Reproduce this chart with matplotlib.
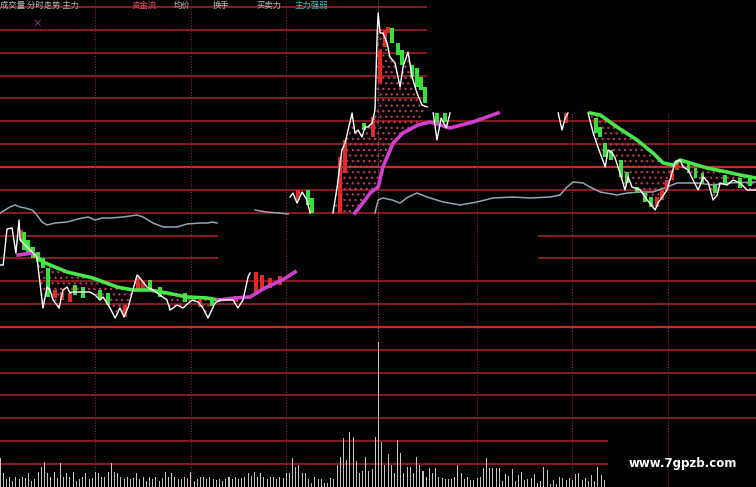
import numpy as np
import matplotlib
matplotlib.use("Agg")
import matplotlib.pyplot as plt

plt.rcParams['font.family'] = ['Noto Sans CJK SC', 'DejaVu Sans']
plt.rcParams['hatch.linewidth'] = 0.9

# x = trading minute, y = level (chart units, 0 = bottom of panel)
# price line, cut into the visible pieces of the screenshot
price_a_x = [0, 1, 2.2, 3.8, 5, 6, 6.3, 10.4, 11.6, 13.5, 14.8, 15.7, 16.7, 18.6, 19.8, 21.1, 22, 22.6,
             28.3, 29.9, 31.4, 32.4, 34.6, 36.2, 37.7, 39, 40.3, 43.1, 44, 46.2, 48.1, 52.5, 53.5, 55.7,
             57.5, 60.4, 62.3, 63.8, 65.4, 67.6, 69.2, 73.3, 74.8, 76.4, 78, 78.6]
price_a_y = [222, 222, 258, 259, 234, 267, 247, 234, 230, 179, 200, 197, 187, 179, 197, 200, 194, 195,
             195, 192, 187, 190, 179, 169, 179, 170, 180, 212, 209, 200, 197, 187, 177, 182,
             179, 187, 185, 179, 169, 184, 187, 187, 179, 187, 210, 214]
price_b_x = [91.2, 92.1, 93.4, 95, 96.5, 97.5]
price_b_y = [290, 294, 284, 295, 287, 274]
price_c_x = [104.7, 106, 107.5, 108.5, 110.7, 111.6, 112.6, 113.8, 114.8, 115.7, 117, 117.9, 118.6, 118.9,
             119.5, 120.4, 121.7, 122.6, 124.2, 125.8, 126.7, 128.3, 129.6, 131.1, 132.7, 134.3]
price_c_y = [274, 300, 337, 344, 374, 354, 357, 350, 360, 360, 364, 377, 454, 474,
             454, 454, 444, 430, 424, 400, 420, 435, 410, 394, 382, 380]
price_d_x = [136.2, 137.4, 138.7, 140.3, 141.5]
price_d_y = [374, 347, 369, 359, 374]
price_e_x = [175.5, 176.7, 177.7, 178.6]
price_e_y = [374, 357, 369, 374]
price_f_x = [184.9, 186.5, 188, 190.3, 191.2, 192.5, 193.4, 195.6, 196.5, 197.5, 198.7, 201.3, 203.5, 206,
             206.9, 209.7, 212.3, 213.8, 214.8, 216.4, 217.9, 219.5, 221.1, 222.6, 224.2, 225.5, 226.4,
             228.6, 230.5, 232.7, 234.9, 237.7]
price_f_y = [374, 354, 340, 320, 337, 334, 329, 307, 297, 310, 300, 297, 287, 277,
             284, 297, 325, 327, 320, 317, 307, 297, 310, 305, 287, 292, 304,
             302, 307, 304, 297, 297]

# upper band (green)
upper_l_x = [7.2, 10.4, 13.5, 21.1, 29.2, 36.8, 41.8, 47.2, 52.5, 58.8, 65.1, 68.6]
upper_l_y = [247, 234, 225, 215, 209, 200, 197, 197, 194, 190, 189, 187]
upper_r_x = [185.5, 188.7, 194, 200.3, 205.3, 208.5, 211.6, 213.8, 217, 222.3, 228.6, 232.7, 237.7]
upper_r_y = [374, 372, 360, 347, 334, 324, 322, 327, 324, 319, 315, 312, 309]

# lower band (magenta)
lower_1_x = [5.7, 10.4]
lower_1_y = [232, 234]
lower_2_x = [68.6, 73.9, 78.6, 83.3, 88.7, 92.8]
lower_2_y = [187, 189, 190, 199, 207, 215]
lower_3_x = [111.6, 114.8, 116.4, 118.9, 120.4, 123.6, 126.7, 131.4, 135.2, 141.5, 148.7, 156.6]
lower_3_y = [274, 287, 294, 300, 320, 344, 354, 362, 365, 359, 365, 374]

# average line (grey blue)
avg_l_x = [0, 1.6, 3.1, 4.7, 6.3, 7.9, 10.1, 11.6, 13.2, 14.8, 17.3, 21.1, 24.5, 27.7, 29.9, 32.1, 34.6,
           38.7, 43.1, 45, 48.1, 51.3, 55.7, 58.8, 62.9, 65.4, 66.7, 68.2]
avg_l_y = [274, 277, 280, 282, 280, 279, 277, 272, 265, 262, 264, 265, 268, 270, 267, 269, 269,
           270, 272, 270, 264, 260, 260, 263, 264, 264, 265, 264]
avg_m_x = [80.2, 81.8, 84, 90.6]
avg_m_y = [277, 276, 275, 273]
avg_r_x = [117.9, 118.9, 120.4, 123.3, 125.8, 128.3, 131.1, 134.3, 139.3, 144.7, 150, 155, 161.3, 166.7,
           173, 176.1, 178.3, 180.2, 183.3, 185.5, 188.7, 194, 197.2, 201.3, 205.3, 209.7, 212.9,
           219.2, 224.2, 228.6, 237.7]
avg_r_y = [274, 287, 289, 287, 284, 290, 294, 290, 285, 282, 285, 289, 290, 289,
           290, 292, 300, 305, 304, 300, 295, 292, 294, 295, 295, 300, 304,
           304, 302, 304, 305]

# candle bodies (minute, low, high)
red_x = [6.6, 17.3, 19.5, 22, 39.3, 43.4, 45, 62.9, 74.2, 80.5, 82.4, 84.9, 88, 93.7, 106.9, 108.5,
         117.3, 119.5, 121.1, 122, 178, 206.6, 208.2, 209.7, 211.3, 212.9]
red_lo = [247, 189, 187, 185, 170, 195, 197, 180, 185, 192, 197, 199, 202, 287, 274, 314,
          350, 404, 440, 454, 364, 280, 287, 297, 307, 317]
red_hi = [257, 197, 195, 194, 182, 209, 205, 187, 191, 215, 212, 209, 211, 297, 330, 347,
          370, 437, 457, 460, 374, 290, 297, 307, 317, 327]
green_x = [7.5, 8.8, 10.4, 11.9, 13.5, 15.1, 23.6, 26.1, 31.4, 34, 47.2, 50.3, 58.2, 66.7, 96.9, 98.1,
           114.5, 123.3, 125.2, 126.4, 129.6, 131.1, 132.4, 133.6, 137.4, 139.9, 187.4, 188.7, 190.3,
           192.1, 195.3, 197.2, 200.3, 202.8, 204.7, 216.4, 218.6, 220.8, 224.8, 228, 232.7, 235.8]
green_lo = [237, 234, 229, 225, 219, 190, 192, 189, 187, 182, 197, 190, 185, 181, 282, 274,
            357, 444, 432, 422, 410, 400, 397, 384, 362, 365, 354, 350, 330,
            327, 310, 304, 294, 285, 280, 314, 309, 304, 294, 302, 299, 301]
green_hi = [255, 247, 240, 235, 229, 219, 202, 200, 197, 194, 207, 200, 194, 189, 297, 289,
            364, 459, 444, 437, 422, 419, 410, 400, 374, 374, 369, 360, 344,
            337, 327, 315, 300, 294, 290, 325, 319, 314, 302, 312, 309, 309]

# volume per minute
volume = [29, 14, 8, 10, 6, 10, 8, 10, 9, 14, 6, 8, 15, 20, 25, 14, 10, 15, 9, 24,
          10, 14, 10, 15, 6, 8, 10, 14, 8, 9, 15, 14, 10, 10, 15, 24, 15, 14, 10, 8,
          10, 8, 9, 14, 8, 10, 6, 10, 8, 10, 6, 9, 15, 10, 14, 10, 8, 8, 10, 9,
          15, 6, 8, 10, 10, 8, 10, 8, 7, 8, 6, 8, 10, 8, 10, 8, 9, 10, 14, 11,
          15, 10, 14, 10, 8, 10, 10, 8, 10, 9, 14, 14, 29, 20, 22,
          14, 14, 8, 4, 10, 8, 8, 4, 4, 9, 8, 22, 30, 49, 27, 55, 50, 26, 14, 16, 30, 16, 18, 50,
          145,
          45, 22, 33, 22, 14, 47, 34, 14, 20, 20, 14, 30, 22, 16, 10, 19, 14, 19, 10, 9,
          8, 8, 8, 10, 22, 14, 8, 10, 7, 7, 9,
          10, 19, 29, 19, 19, 19, 19, 6, 13, 11, 18, 6, 12, 15, 7, 8, 9, 13, 4, 6,
          20, 17, 3, 7, 3, 10, 9, 7, 9, 7, 13, 14, 7, 9, 6, 12, 6, 20, 12, 7]

time_marks = [30, 60, 90, 119, 150, 180, 210]

header = [("成交量 分时走势 主力", '#b8b8b8', 0),
          ("资金流", '#e05060', 132),
          ("均价", '#b8b8b8', 174),
          ("换手", '#b8b8b8', 213),
          ("买卖力", '#b8b8b8', 257),
          ("主力强弱", '#40c0c0', 294)]

fig = plt.figure(figsize=(7.56, 4.87), dpi=100, facecolor='black')
ax = fig.add_axes([0, 0, 1, 1], facecolor='black')
x_end = 237.7
ax.set_xlim(0, x_end)
ax.set_ylim(0, 487)
ax.axis('off')

# horizontal grid, some pieces of the screen are blanked out
levels = 480 - 22.85 * np.arange(21)
for k, lv in enumerate(levels):
    col = '#cc2828' if k in (7, 14) else '#9a1e1e'
    lw = 1.6 if k in (7, 14) else 1.25
    if k <= 4:
        spans = [(0, 134.3)]
    elif k in (10, 11):
        spans = [(0, 68.6), (169.2, x_end)]
    elif k >= 19:
        spans = [(0, 191.2)]
    else:
        spans = [(0, x_end)]
    for a, b in spans:
        ax.hlines(lv, a, b, colors=col, linewidth=lw, zorder=1)

for m in time_marks:
    top = 374 if m >= 150 else 487
    col = '#b84848' if m == 119 else '#8a2a2a'
    ax.vlines(m, 0, top, colors=col, linestyles=(0, (1, 1.5)), linewidth=0.8, zorder=1)

# volume
ax.bar(np.arange(len(volume)), volume, width=0.32, color='#c4c4c4', zorder=2)


def band(top_x, top_y, bot_x, bot_y):
    tx, ty = np.asarray(top_x), np.asarray(top_y)
    bx, by = np.asarray(bot_x), np.asarray(bot_y)
    keep = (bx >= tx.min()) & (bx <= tx.max())
    return np.r_[tx, bx[keep][::-1]], np.r_[ty, by[keep][::-1]]


for fx, fy in [band(upper_l_x, upper_l_y, price_a_x, price_a_y),
               band(price_c_x, price_c_y, lower_3_x, lower_3_y),
               band(upper_r_x, upper_r_y, price_f_x, price_f_y)]:
    ax.fill(fx, fy, facecolor='none', edgecolor='#b83a58', hatch='...', linewidth=0, zorder=2)

for xs, ys in [(avg_l_x, avg_l_y), (avg_m_x, avg_m_y), (avg_r_x, avg_r_y)]:
    ax.plot(xs, ys, color='#8fa6b4', linewidth=1.1, zorder=3)

ax.bar(red_x, np.subtract(red_hi, red_lo), bottom=red_lo, width=1.1, color='#e02a2a', zorder=4)
ax.bar(green_x, np.subtract(green_hi, green_lo), bottom=green_lo, width=1.1, color='#3ae03a', zorder=4)

for xs, ys in [(upper_l_x, upper_l_y), (upper_r_x, upper_r_y)]:
    ax.plot(xs, ys, color='#48e848', linewidth=2.6, zorder=5)
for xs, ys in [(lower_1_x, lower_1_y), (lower_2_x, lower_2_y), (lower_3_x, lower_3_y)]:
    ax.plot(xs, ys, color='#d040d0', linewidth=2.6, zorder=5)

for xs, ys in [(price_a_x, price_a_y), (price_b_x, price_b_y), (price_c_x, price_c_y),
               (price_d_x, price_d_y), (price_e_x, price_e_y), (price_f_x, price_f_y)]:
    ax.plot(xs, ys, color='white', linewidth=1.0, zorder=6)

# indicator header along the top edge
for txt, col, px in header:
    ax.text(px / 3.18, 486.5, txt, color=col, fontsize=6, va='top', ha='left', zorder=7)
ax.text(37 / 3.18, 463, '×', color='#b040d0', fontsize=7, ha='center', va='center', zorder=7)

ax.text(683 / 3.18, 23, 'www.7gpzb.com', color='white', fontsize=8.5, fontweight='bold',
        family='DejaVu Sans', ha='center', va='center', zorder=7)

fig.savefig('out.png', dpi=100, facecolor='black')
